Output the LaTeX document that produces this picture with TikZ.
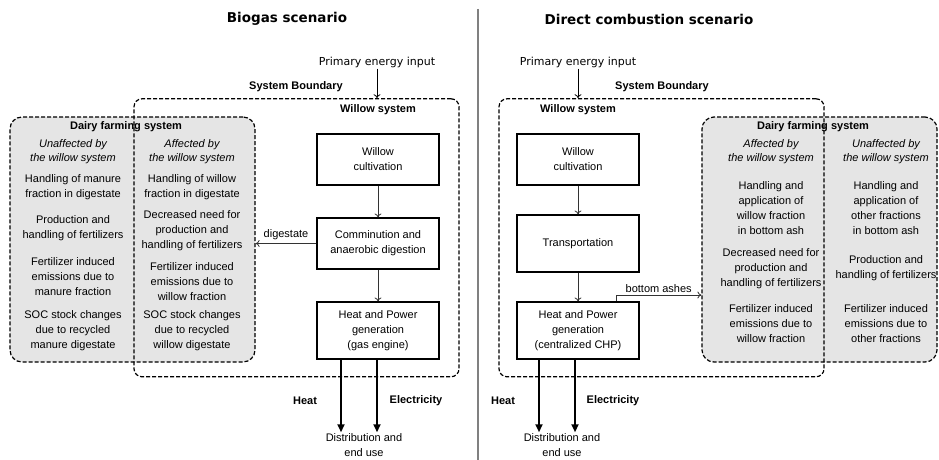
\documentclass[tikz,border=0pt]{standalone}
\usepackage{fontspec}
\setmainfont{Liberation Sans}
\newfontfamily\djv{DejaVu Sans}
\usetikzlibrary{arrows.meta}

\tikzset{
    txt/.style={align=center, inner sep=1pt, font=\fontsize{11}{15}\selectfont},
    lbl/.style={inner sep=1pt, font=\bfseries\fontsize{11}{13}\selectfont},
    hdr/.style={align=center, inner sep=1pt, font=\itshape\fontsize{11}{14}\selectfont},
    ttl/.style={font=\djv\bfseries\fontsize{13.5}{16}\selectfont},
    pin/.style={inner sep=1pt, font=\djv\fontsize{11}{13}\selectfont},
    procbox/.style={draw, line width=1.1pt, minimum width=122, minimum height=51, align=center, font=\fontsize{11}{15}\selectfont},
    sysbound/.style={draw, line width=1.2pt, dash pattern=on 4pt off 2pt, rounded corners=8pt},
    dairybox/.style={draw, fill=gray!20, line width=1.2pt, dash pattern=on 4pt off 2pt, rounded corners=12pt},
    flow/.style={draw=black!80, line width=0.8pt, -{To[length=4pt,width=7pt]}},
    output/.style={line width=2pt, -{Triangle[length=8pt,width=7pt]}}
}

\begin{document}
\begin{tikzpicture}[x=1pt, y=-1pt]
        \useasboundingbox (0,0) rectangle (939,460);

        % divider between the two scenarios
        \draw[gray, line width=2pt] (477.5,9) -- (477.5,460);

        % Biogas scenario
        \node[ttl] (title1) at (287,19) {Biogas scenario};
        \node[dairybox, minimum width=245, minimum height=245] (dfs1) at (132.5,239.5) {};
        \node[sysbound, minimum width=325, minimum height=278] (wsb1) at (296.5,237.8) {};
        \node[pin] (pei1) at (377,62) {Primary energy input};
        \node[lbl] (sb1) at (296,87) {System Boundary};
        \node[lbl] (ws1) at (378,110) {Willow system};
        \node[lbl] (dft1) at (126,127) {Dairy farming system};
        \node[hdr] (unaff1) at (73,152) {Unaffected by\\the willow system};
        \node[hdr] (aff1) at (192,152) {Affected by\\the willow system};
        \node[txt] (lu1) at (73,187.5) {Handling of manure\\fraction in digestate};
        \node[txt] (lu2) at (73,228.5) {Production and\\handling of fertilizers};
        \node[txt] (lu3) at (73,277) {Fertilizer induced\\emissions due to\\manure fraction};
        \node[txt] (lu4) at (73,331) {SOC stock changes\\due to recycled\\manure digestate};
        \node[txt] (la1) at (192,187.5) {Handling of willow\\fraction in digestate};
        \node[txt] (la2) at (192,231) {Decreased need for\\production and\\handling of fertilizers};
        \node[txt] (la3) at (192,282) {Fertilizer induced\\emissions due to\\willow fraction};
        \node[txt] (la4) at (192,331) {SOC stock changes\\due to recycled\\willow digestate};
        \node[procbox] (wc1) at (378,159.5) {Willow\\cultivation};
        \node[procbox] (cad1) at (378,243.5) {Comminution and\\anaerobic digestion};
        \node[procbox, minimum height=57] (hp1) at (378,330.5) {Heat and Power\\generation\\(gas engine)};
        \node[txt] (deu1) at (364,445) {Distribution and\\end use};
        \node[lbl] (heat1) at (305,401) {Heat};
        \node[lbl] (el1) at (416,401) {Electricity};
        \coordinate (hx1) at (341,0);
        \coordinate (ex1) at (377,0);
        \draw[flow, draw=black] (pei1) -- (pei1 |- wsb1.north);
        \draw[flow] (wc1) -- (cad1);
        \draw[flow] (cad1) -- (hp1);
        \draw[flow] (cad1.west) -- (cad1.west -| dfs1.east) node[txt, midway, above=2pt] {digestate};
        \draw[output] (hp1.south -| hx1) -- (deu1.north -| hx1);
        \draw[output] (hp1.south -| ex1) -- (deu1.north -| ex1);

        % Direct combustion scenario
        \node[ttl] (title2) at (649,19) {Direct combustion scenario};
        \node[dairybox, minimum width=235, minimum height=245] (dfs2) at (819.5,239.5) {};
        \node[sysbound, minimum width=325, minimum height=278] (wsb2) at (661.5,237.8) {};
        \node[pin] (pei2) at (578,62) {Primary energy input};
        \node[lbl] (sb2) at (662,87) {System Boundary};
        \node[lbl] (ws2) at (578,110) {Willow system};
        \node[lbl] (dft2) at (813,127) {Dairy farming system};
        \node[hdr] (aff2) at (771,152) {Affected by\\the willow system};
        \node[hdr] (unaff2) at (886,152) {Unaffected by\\the willow system};
        \node[txt] (ra1) at (771,208) {Handling and\\application of\\willow fraction\\in bottom ash};
        \node[txt] (ra2) at (771,269) {Decreased need for\\production and\\handling of fertilizers};
        \node[txt] (ra3) at (771,324) {Fertilizer induced\\emissions due to\\willow fraction};
        \node[txt] (ru1) at (886,208) {Handling and\\application of\\other fractions\\in bottom ash};
        \node[txt] (ru2) at (886,268.5) {Production and\\handling of fertilizers};
        \node[txt] (ru3) at (886,324) {Fertilizer induced\\emissions due to\\other fractions};
        \node[procbox] (wc2) at (578,159.5) {Willow\\cultivation};
        \node[procbox, minimum height=57] (tr2) at (578,243.5) {Transportation};
        \node[procbox, minimum height=57] (hp2) at (578,330.5) {Heat and Power\\generation\\(centralized CHP)};
        \node[txt] (deu2) at (562,445) {Distribution and\\end use};
        \node[lbl] (heat2) at (503,401) {Heat};
        \node[lbl] (el2) at (613,401) {Electricity};
        \coordinate (hx2) at (539,0);
        \coordinate (ex2) at (575,0);
        \coordinate (ash2) at (616,295);
        \draw[flow, draw=black] (pei2) -- (pei2 |- wsb2.north);
        \draw[flow] (wc2) -- (tr2);
        \draw[flow] (tr2) -- (hp2);
        \draw[flow] (hp2.north -| ash2) -- (ash2) -- (ash2 -| dfs2.west) node[txt, midway, above=1pt] {bottom ashes};
        \draw[output] (hp2.south -| hx2) -- (deu2.north -| hx2);
        \draw[output] (hp2.south -| ex2) -- (deu2.north -| ex2);
    \end{tikzpicture}
\end{document}
